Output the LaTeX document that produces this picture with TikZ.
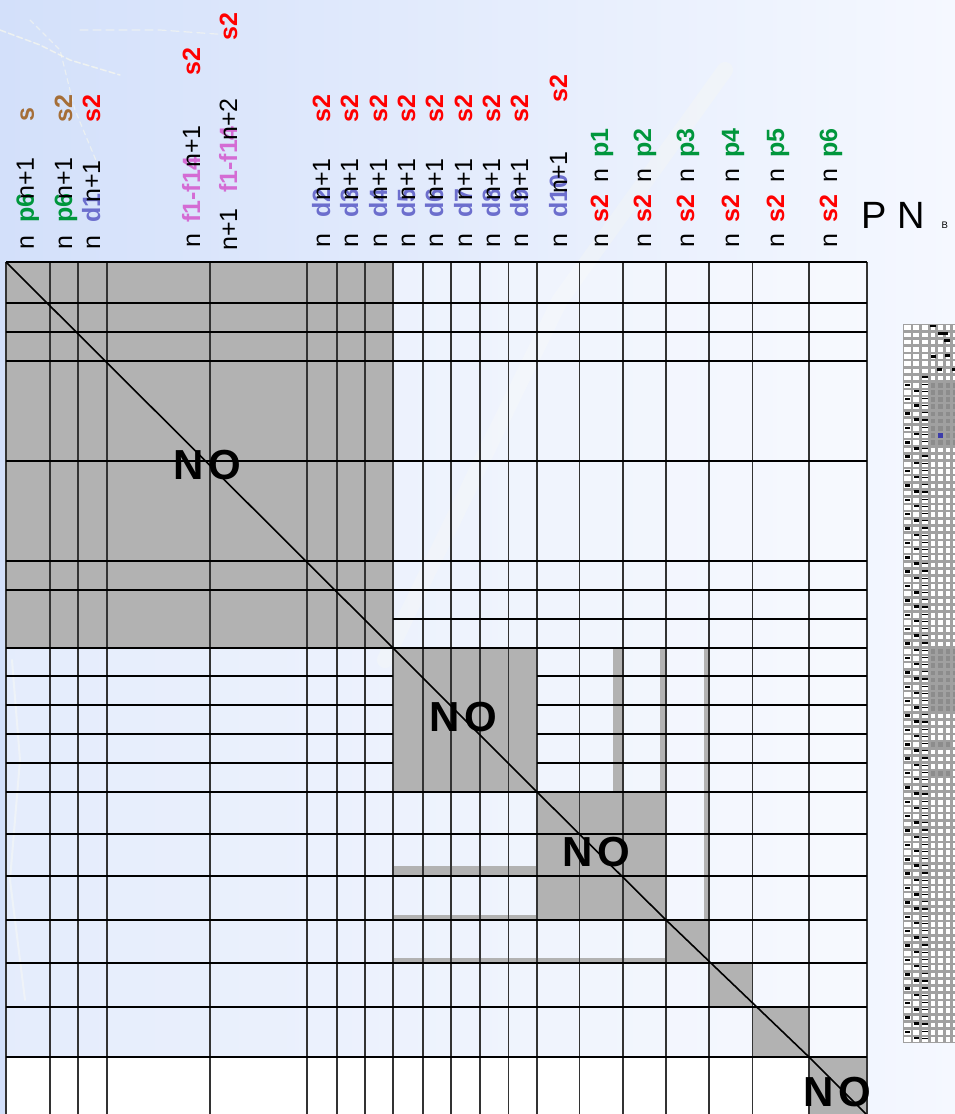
\documentclass[tikz,border=0pt]{standalone}
\usepackage{fontspec}
\setmainfont{Liberation Sans}
\definecolor{bgL}{RGB}{211,224,250}
\definecolor{bgR}{RGB}{245,248,255}
\definecolor{blockgray}{RGB}{178,178,178}
\definecolor{labgreen}{RGB}{0,150,60}
\definecolor{labred}{RGB}{255,0,0}
\definecolor{labblue}{RGB}{108,110,205}
\definecolor{labpink}{RGB}{212,108,212}
\definecolor{labbrown}{RGB}{165,110,55}
\definecolor{thumbgray}{RGB}{160,160,160}
\definecolor{thumbdark}{RGB}{140,140,140}
\definecolor{thumbblue}{RGB}{60,60,170}
\definecolor{streakcol}{RGB}{255,253,235}
\tikzset{
  lab/.style={rotate=90, anchor=base west, inner sep=0pt, font=\fontsize{25}{25}\selectfont},
  labb/.style={lab, font=\fontsize{25}{25}\selectfont\bfseries},
  nolab/.style={font=\fontsize{42}{42}\selectfont\bfseries, inner sep=0pt},
  gl/.style={line width=1.6pt, black},
  vl/.style={line width=1.5pt, black!80},
  blockfill/.style={fill=blockgray},
  streak/.style={streakcol, line cap=round},
}
\begin{document}
\begin{tikzpicture}[x=1pt,y=-1pt]
\useasboundingbox (0,0) rectangle (955,1114);
% background
\shade[left color=bgL, right color=bgR] (0,0) rectangle (955,1114);
\draw[streak, line width=16pt, opacity=0.22] (725,70) -- (560,300) -- (385,660);
\draw[streak, line width=1.5pt, opacity=0.6, dash pattern=on 6pt off 3pt] (0,30) -- (40,45) -- (70,60) -- (120,75);
\draw[streak, line width=1.2pt, opacity=0.5, dash pattern=on 5pt off 4pt] (30,20) -- (60,50) -- (75,110) -- (100,170);
\draw[streak, line width=1.2pt, opacity=0.5, dash pattern=on 8pt off 5pt] (80,30) -- (160,30) -- (230,35);
\draw[streak, line width=2pt, opacity=0.5] (455,655) -- (450,700) -- (440,760);
\draw[streak, line width=2pt, opacity=0.4] (12,660) -- (20,760) -- (10,880) -- (25,1000);

% grid cell fills
\fill[white, opacity=0.4] (6,262) rectangle (867,1057);
\fill[white] (6,1057) rectangle (867,1114);

% gray diagonal blocks
\fill[blockfill] (6,262) rectangle (393,648);
\fill[blockfill] (393,648) rectangle (537,792);
\fill[blockfill] (537,792) rectangle (666,920);
\fill[blockfill] (666,920) rectangle (709,963);
\fill[blockfill] (709,963) rectangle (752.5,1007);
\fill[blockfill] (752.5,1007) rectangle (809,1057);
\fill[blockfill] (809,1057) rectangle (867,1114);

% thin gray strips
\fill[blockfill] (612.7,648) rectangle (623,792);
\fill[blockfill] (660,648) rectangle (666,792);
\fill[blockfill] (703.5,648) rectangle (709,920);
\fill[blockfill] (393,866) rectangle (537,876);
\fill[blockfill] (393,914.5) rectangle (537,920);
\fill[blockfill] (393,957.5) rectangle (666,963);

% vertical grid lines
\foreach \x in {6,50,78,107,210,307,337,365,393,423,451,480,508.5,537,579.5,623,666,709,752.5,809,867}
  \draw[vl] (\x,262) -- (\x,1114);
% horizontal grid lines
\foreach \y in {262,303,332,361,461,561,590,648,792,834,876,920,963,1007,1057}
  \draw[gl] (6,\y) -- (867,\y);
\draw[gl] (393,619) -- (867,619);
\foreach \y in {676,705,734,763} {
  \draw[gl] (6,\y) -- (393,\y);
  \draw[gl] (537,\y) -- (867,\y);
}

% NO labels
\node[nolab] (no1) at (207,465) {N\hspace{5pt}O};
\node[nolab] (no2) at (463,717) {N\hspace{5pt}O};
\node[nolab] (no3) at (596,852) {N\hspace{5pt}O};
\node[nolab] (no4) at (837,1092) {N\hspace{5pt}O};

% diagonal
\coordinate (g0) at (6,262);
\coordinate (g1) at (393,648);
\coordinate (g2) at (537,792);
\coordinate (g3) at (666,920);
\coordinate (g4) at (809,1057);
\coordinate (g5) at (866,1114);
\draw[gl] (g0) -- (g1) -- (g2) -- (g3) -- (g4) -- (g5);

% column labels
\node[lab] (a1n) at (34,250) {n};
\node[labb, text=labgreen] (a1p) at (34,223) {p6};
\node[lab] (a1e) at (34,200) {n+1};
\node[labb, text=labbrown] (a1s) at (34,122) {s};

\node[lab] (a2n) at (72,250) {n};
\node[labb, text=labgreen] (a2p) at (72,223) {p6};
\node[lab] (a2e) at (72,200) {n+1};
\node[labb, text=labbrown] (a2s) at (72,123) {s2};

\node[lab] (a3n) at (100,250) {n};
\node[labb, text=labblue] (a3d) at (100,223) {d1};
\node[lab] (a3e) at (100,203) {n+1};
\node[labb, text=labred] (a3s) at (100,123) {s2};

\node[lab] (a4n) at (200,248) {n};
\node[labb, text=labpink] (a4f) at (200,223) {f1-f14};
\node[lab] (a4e) at (200,168) {n+1};
\node[labb, text=labred] (a4s) at (200,76) {s2};

\node[lab] (a5n) at (237,251) {n+1};
\node[labb, text=labpink] (a5f) at (237,193) {f1-f14};
\node[lab] (a5e) at (237,141) {n+2};
\node[labb, text=labred] (a5s) at (237,41) {s2};

\foreach \b [count=\k from 2] in {330,358,387,415,443,472,500,528} {
  \node[lab] (d\k n) at (\b,248) {n};
  \node[labb, text=labblue] (d\k d) at (\b,218) {d\k};
  \node[lab] (d\k e) at (\b,201) {n+1};
  \node[labb, text=labred] (d\k s) at (\b,123) {s2};
}
\node[lab] (d10n) at (567,248) {n};
\node[labb, text=labblue] (d10d) at (567,218) {d10};
\node[lab] (d10e) at (567,194) {n+1};
\node[labb, text=labred] (d10s) at (567,103) {s2};

\foreach \b [count=\k] in {608,651,694,739,784,837} {
  \node[lab] (p\k n) at (\b,248) {n};
  \node[labb, text=labred] (p\k s) at (\b,223) {s2};
  \node[lab] (p\k m) at (\b,183) {n};
  \node[labb, text=labgreen] (p\k p) at (\b,158) {p\k};
}

\node[anchor=base west, inner sep=0pt, font=\fontsize{38}{38}\selectfont] (pn) at (861,228) {P N};
\node[anchor=base west, inner sep=0pt, font=\fontsize{9.5}{9.5}\selectfont] (bb) at (941.5,228) {B};

% thumbnail
\fill[thumbgray] (903,324) rectangle (955,1043);
\foreach \r in {0,...,99} {
  \foreach \cx/\cw in {903/8.7,911.7/8.7,920.4/8.7,929.1/7.5,936.6/7.5,944.1/7.5,951.6/7.5} {
    \fill[white] (\cx+1.4,324+\r*7.19+1.4) rectangle (\cx+\cw-1.2,324+\r*7.19+6);
  }
}
\foreach \r in {8,...,16} {
  \foreach \cx in {929.1,936.6,944.1,951.6}
    \fill[thumbdark] (\cx+1.4,324+\r*7.19+1.4) rectangle (\cx+6.3,324+\r*7.19+6);
}
\foreach \r in {45,...,53} {
  \foreach \cx in {929.1,936.6,944.1,951.6}
    \fill[thumbdark] (\cx+1.4,324+\r*7.19+1.4) rectangle (\cx+6.3,324+\r*7.19+6);
}
\foreach \r in {58,62} {
  \foreach \cx in {929.1,936.6,944.1}
    \fill[thumbdark] (\cx+1.4,324+\r*7.19+1.4) rectangle (\cx+6.3,324+\r*7.19+6);
}
\fill[thumbblue] (938,324+15*7.19+1.4) rectangle (942.9,324+15*7.19+6);
\foreach \r in {8,10,...,98}
  \fill[black] (904.5,324+\r*7.19+2) rectangle (909.5,324+\r*7.19+4.5);
\foreach \r in {9,11,...,99}
  \fill[black] (913.5,324+\r*7.19+1) rectangle (919,324+\r*7.19+3.5);
\foreach \r in {7,...,99} {
  \fill[black] (922,324+\r*7.19+2) rectangle (927.5,324+\r*7.19+3.2);
}
\fill[black] (930,325) rectangle (936,327);
\fill[black] (938,332) rectangle (948,334.5);
\fill[black] (944,339) rectangle (950,341.5);
\fill[black] (931,355) rectangle (936,357.5);
\fill[black] (945,354) rectangle (950,356.5);
\fill[black] (937,368) rectangle (942,370.5);
\fill[black] (952,368) rectangle (955,370.5);
\end{tikzpicture}
\end{document}
